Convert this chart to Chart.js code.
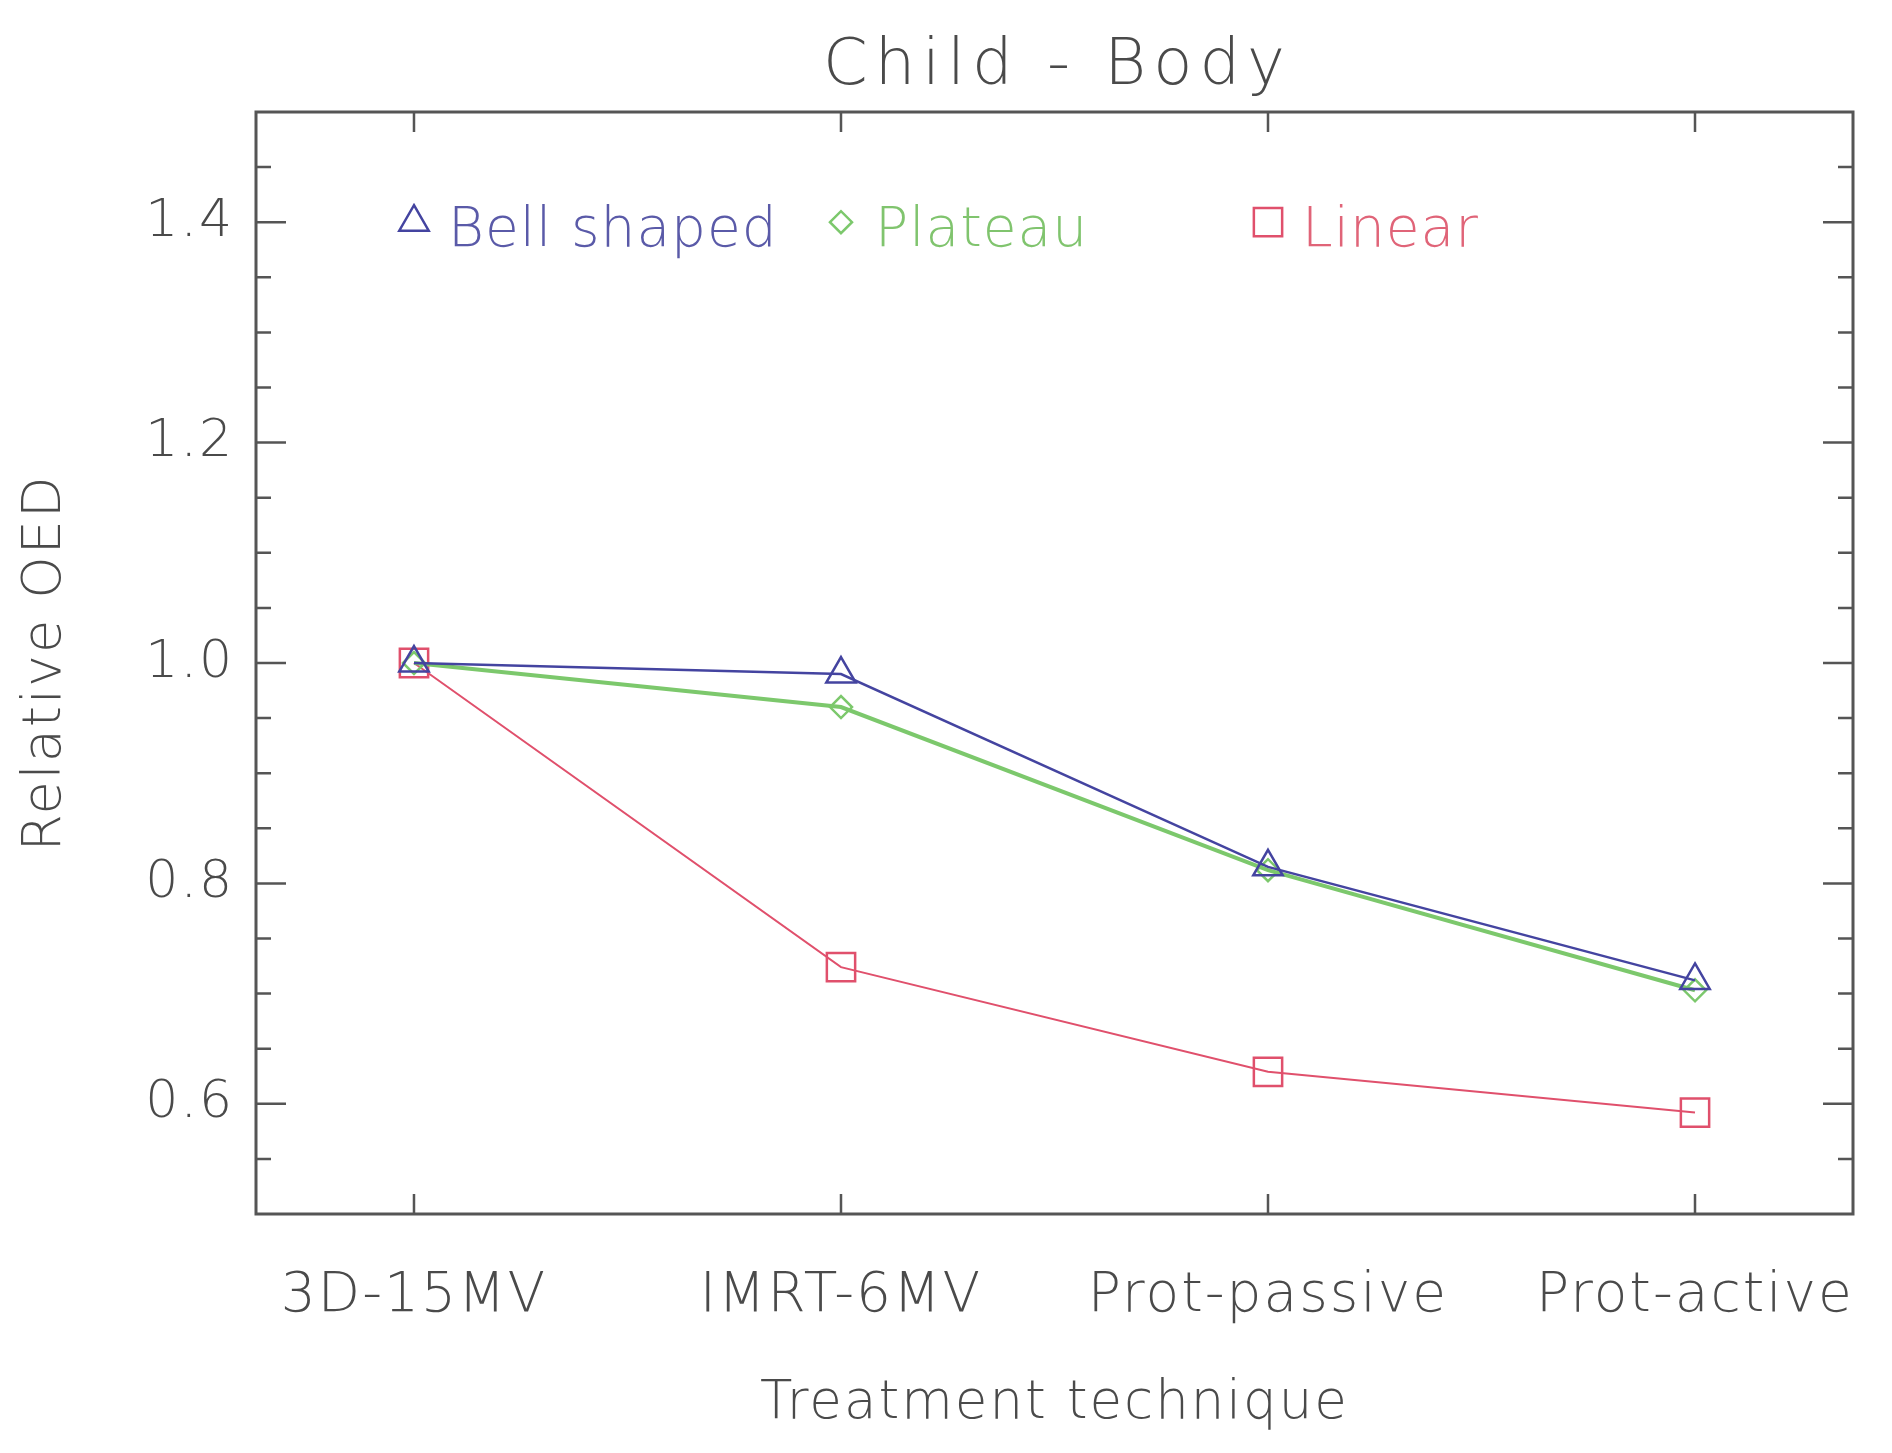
<!DOCTYPE html>
<html>
<head>
<meta charset="utf-8">
<script src="https://cdn.jsdelivr.net/npm/chart.js@4/dist/chart.umd.min.js"></script>
<style>
  html, body { margin: 0; padding: 0; background: #fff; }
  #wrap { width: 1892px; height: 1453px; position: relative; }
</style>
</head>
<body>
<div id="wrap"><canvas id="myChart"></canvas></div>
<script>
// categories on the x axis
var techniques = ['3D-15MV', 'IMRT-6MV', 'Prot-passive', 'Prot-active'];
// relative OED
var bellShaped = [1.000, 0.990, 0.815, 0.712];
var plateau    = [1.000, 0.960, 0.812, 0.703];
var linear     = [1.000, 0.724, 0.629, 0.592];
// y axis ticks
var yMajor = [0.6, 0.8, 1.0, 1.2, 1.4];
var yMinor = [0.55, 0.65, 0.7, 0.75, 0.85, 0.9, 0.95, 1.05, 1.1, 1.15, 1.25, 1.3, 1.35, 1.45];

var textCol = '#4a4a4a';
var frameCol = '#555555';
var fam = '"DejaVu Sans", sans-serif';
var wt = 200;

function pts(vals) {
	return vals.map(function(v, i) { return {x: i, y: v}; });
}

// frame, inward ticks, title and the in-plot legend
var idlFrame = {
	id: 'idlFrame',
	beforeDraw: function(chart) {
		// the old plot font is a bit wider than DejaVu
		chart.ctx.letterSpacing = '2px';
	},
	afterDraw: function(chart) {
		var ctx = chart.ctx;
		var a = chart.chartArea;
		var xs = chart.scales.x, ys = chart.scales.y;
		ctx.save();
		ctx.strokeStyle = frameCol;
		ctx.lineWidth = 3;
		ctx.strokeRect(a.left, a.top, a.right - a.left, a.bottom - a.top);
		ctx.lineWidth = 2.5;
		ctx.beginPath();
		yMajor.forEach(function(v) {
			var y = ys.getPixelForValue(v);
			ctx.moveTo(a.left, y); ctx.lineTo(a.left + 30, y);
			ctx.moveTo(a.right, y); ctx.lineTo(a.right - 30, y);
		});
		yMinor.forEach(function(v) {
			var y = ys.getPixelForValue(v);
			ctx.moveTo(a.left, y); ctx.lineTo(a.left + 15, y);
			ctx.moveTo(a.right, y); ctx.lineTo(a.right - 15, y);
		});
		techniques.forEach(function(t, i) {
			var x = xs.getPixelForValue(i);
			ctx.moveTo(x, a.top); ctx.lineTo(x, a.top + 20);
			ctx.moveTo(x, a.bottom); ctx.lineTo(x, a.bottom - 20);
		});
		ctx.stroke();

		// title
		ctx.fillStyle = textCol;
		ctx.font = wt + ' 64px ' + fam;
		ctx.letterSpacing = '7px';
		ctx.textAlign = 'center';
		ctx.textBaseline = 'alphabetic';
		ctx.fillText('Child - Body', (a.left + a.right) / 2 + 3, 84);
		ctx.letterSpacing = '1px';

		// legend, one entry per category slot at the 1.4 level
		var ly = ys.getPixelForValue(1.4);
		chart.data.datasets.forEach(function(ds, i) {
			var lx = xs.getPixelForValue(i);
			ctx.strokeStyle = ds.borderColor;
			ctx.fillStyle = 'rgba(0,0,0,0)';
			ctx.lineWidth = 2.5;
			Chart.helpers.drawPoint(ctx, {pointStyle: ds.pointStyle, rotation: 0, radius: ds.pointRadius, borderWidth: 2.5}, lx, ly);
			ctx.fillStyle = ds.labelColor;
			ctx.font = wt + ' 55px ' + fam;
			ctx.textAlign = 'left';
			ctx.fillText(ds.label, lx + 34, ly + 24);
		});
		ctx.restore();
		ctx.letterSpacing = '0px';
	}
};

var ctx = document.getElementById('myChart');
var myChart = new Chart(ctx, {
	type: 'line',
	data: {
		datasets: [{
			label: 'Bell shaped',
			data: pts(bellShaped),
			borderColor: '#4444a0',
			labelColor: '#5a5aa8',
			backgroundColor: 'rgba(0,0,0,0)',
			borderWidth: 2.5,
			pointStyle: 'triangle',
			pointRadius: 17,
			pointBorderWidth: 2.5,
			tension: 0
		}, {
			label: 'Plateau',
			data: pts(plateau),
			borderColor: '#7cc86c',
			labelColor: '#80c46e',
			backgroundColor: 'rgba(0,0,0,0)',
			borderWidth: 4,
			pointStyle: 'rectRot',
			pointRadius: 11,
			pointBorderWidth: 2.5,
			tension: 0
		}, {
			label: 'Linear',
			data: pts(linear),
			borderColor: '#e0506c',
			labelColor: '#e06478',
			backgroundColor: 'rgba(0,0,0,0)',
			borderWidth: 2,
			pointStyle: 'rect',
			pointRadius: 20,
			pointBorderWidth: 2.5,
			tension: 0
		}]
	},
	options: {
		responsive: true,
		maintainAspectRatio: false,
		animation: false,
		events: [],
		layout: { padding: { top: 112, right: 39, left: 0, bottom: 0 } },
		plugins: {
			legend: { display: false },
			title: { display: false },
			tooltip: { enabled: false }
		},
		scales: {
			x: {
				type: 'linear',
				min: -0.37,
				max: 3.37,
				afterFit: function(s) {
					s.height = 239;
					s.paddingLeft = 0;
					s.paddingRight = 0;
				},
				afterBuildTicks: function(s) {
					s.ticks = techniques.map(function(t, i) { return {value: i}; });
				},
				grid: { display: false, drawTicks: false },
				border: { display: false },
				ticks: {
					autoSkip: false,
					maxRotation: 0,
					padding: 50,
					color: textCol,
					font: { family: fam, size: 55, weight: wt },
					callback: function(value) { return techniques[value]; }
				},
				title: {
					display: true,
					text: 'Treatment technique',
					color: textCol,
					font: { family: fam, size: 53, weight: wt },
					padding: { top: 0, bottom: 17 }
				}
			},
			y: {
				min: 0.5,
				max: 1.5,
				afterFit: function(s) {
					s.width = 256;
					s.paddingTop = 0;
					s.paddingBottom = 0;
				},
				afterBuildTicks: function(s) {
					s.ticks = yMajor.map(function(v) { return {value: v}; });
				},
				grid: { display: false, drawTicks: false },
				border: { display: false },
				ticks: {
					padding: 22,
					color: textCol,
					font: { family: fam, size: 52, weight: wt },
					callback: function(value) { return value.toFixed(1); }
				},
				title: {
					display: true,
					text: 'Relative OED',
					color: textCol,
					font: { family: fam, size: 54, weight: wt },
					padding: { top: 14, bottom: 0 }
				}
			}
		}
	},
	plugins: [idlFrame]
});
</script>
</body>
</html>
